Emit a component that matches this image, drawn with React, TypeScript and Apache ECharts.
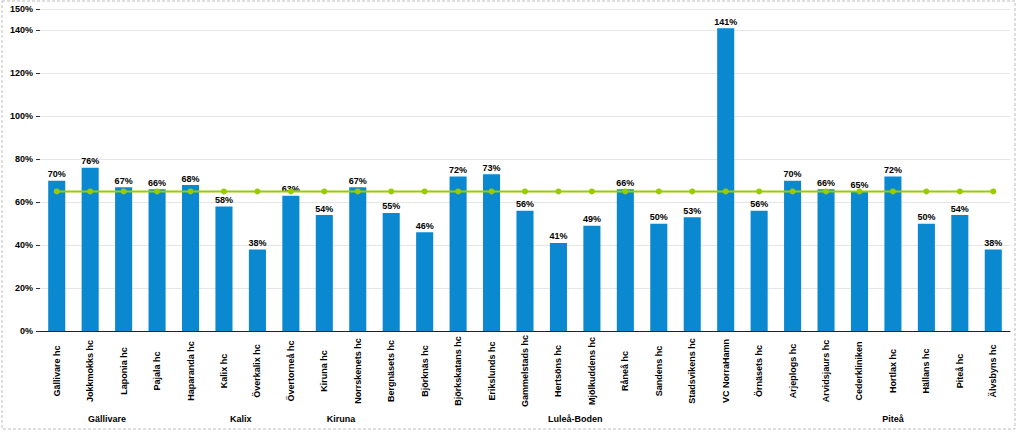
import React, { useEffect, useRef } from "react";
import * as echarts from "echarts";

const categories = [
  "Gällivare hc", "Jokkmokks hc", "Laponia hc", "Pajala hc", "Haparanda hc",
  "Kalix hc", "Överkalix hc", "Övertorneå hc", "Kiruna hc", "Norrskenets hc",
  "Bergnäsets hc", "Björknäs hc", "Björkskatans hc", "Erikslunds hc", "Gammelstads hc",
  "Hertsöns hc", "Mjölkuddens hc", "Råneå hc", "Sandens hc", "Stadsvikens hc",
  "VC NorraHamn", "Örnäsets hc", "Arjeplogs hc", "Arvidsjaurs hc", "Cederkliniken",
  "Hortlax hc", "Hällans hc", "Piteå hc", "Älvsbyns hc",
];

const values = [
  70, 76, 67, 66, 68,
  58, 38, 63, 54, 67,
  55, 46, 72, 73, 56,
  41, 49, 66, 50, 53,
  141, 56, 70, 66, 65,
  72, 50, 54, 38,
];

const targetValue = 65;
const target = categories.map(() => targetValue);

// groups: name, first index, last index
const groupNames = ["Gällivare", "Kalix", "Kiruna", "Luleå-Boden", "Piteå"];
const groupStart = [0, 4, 8, 10, 22];
const groupEnd = [3, 7, 9, 21, 28];

const yTicksMax = 150;
const yInterval = 20;

export default function App() {
  const ref = useRef<HTMLDivElement>(null);
  useEffect(() => {
    if (!ref.current) return;
    const chart = echarts.init(ref.current, undefined, { renderer: "svg" });
    const groupCenters = groupStart.map((s, i) => (s + groupEnd[i] + 1) / 2);
    const font = "Arial, 'Liberation Sans', sans-serif";
    chart.setOption({
      animation: false,
      backgroundColor: "#ffffff",
      grid: { left: 40, right: 13, top: 9, bottom: 103, containLabel: false },
      graphic: [
        {
          type: "rect",
          shape: { x: 2, y: 1, width: 1013, height: 428 },
          style: { fill: "none", stroke: "#bdbdbd", lineWidth: 1, lineDash: [3, 2] },
          silent: true,
          z: -10,
        },
      ],
      xAxis: [
        {
          type: "category",
          data: categories,
          axisLine: { show: true, lineStyle: { color: "#222", width: 1 } },
          axisTick: { show: false },
          axisLabel: {
            rotate: 90,
            interval: 0,
            align: "center",
            verticalAlign: "middle",
            margin: 40,
            fontSize: 9,
            fontWeight: "bold",
            fontFamily: font,
            color: "#000",
          },
        },
        {
          type: "value",
          position: "bottom",
          min: 0,
          max: categories.length,
          axisLine: { show: false },
          axisTick: { show: false },
          splitLine: { show: false },
          axisLabel: {
            customValues: groupCenters,
            formatter: (v: number) => {
              const i = groupCenters.findIndex((c) => Math.abs(c - v) < 1e-6);
              return i >= 0 ? groupNames[i] : "";
            },
            margin: 83,
            fontSize: 9,
            fontWeight: "bold",
            fontFamily: font,
            color: "#000",
          },
        },
      ],
      yAxis: {
        type: "value",
        min: 0,
        max: yTicksMax,
        interval: yInterval,
        axisLine: { show: false },
        axisTick: { show: true, length: 4, lineStyle: { color: "#333" } },
        splitLine: { show: true, lineStyle: { color: "#e6e6e6", width: 1 } },
        axisLabel: {
          formatter: (v: number) => `${v}%`,
          fontSize: 9,
          fontWeight: "bold",
          fontFamily: font,
          color: "#000",
          margin: 7,
        },
      },
      series: [
        {
          type: "bar",
          data: values,
          barWidth: "51%",
          itemStyle: { color: "#0a89d0" },
          label: {
            show: true,
            position: "top",
            distance: 2,
            formatter: (p: any) => `${Math.round(p.value)}%`,
            fontSize: 9,
            fontWeight: "bold",
            fontFamily: font,
            color: "#000",
          },
          z: 2,
        },
        {
          type: "line",
          data: target,
          symbol: "circle",
          symbolSize: 6,
          lineStyle: { color: "#99cc00", width: 2 },
          itemStyle: { color: "#99cc00" },
          z: 3,
        },
      ],
    });
    return () => chart.dispose();
  }, []);
  return (
    <div
      ref={ref}
      style={{ position: "fixed", left: 0, top: 0, width: 1023, height: 434 }}
    />
  );
}
